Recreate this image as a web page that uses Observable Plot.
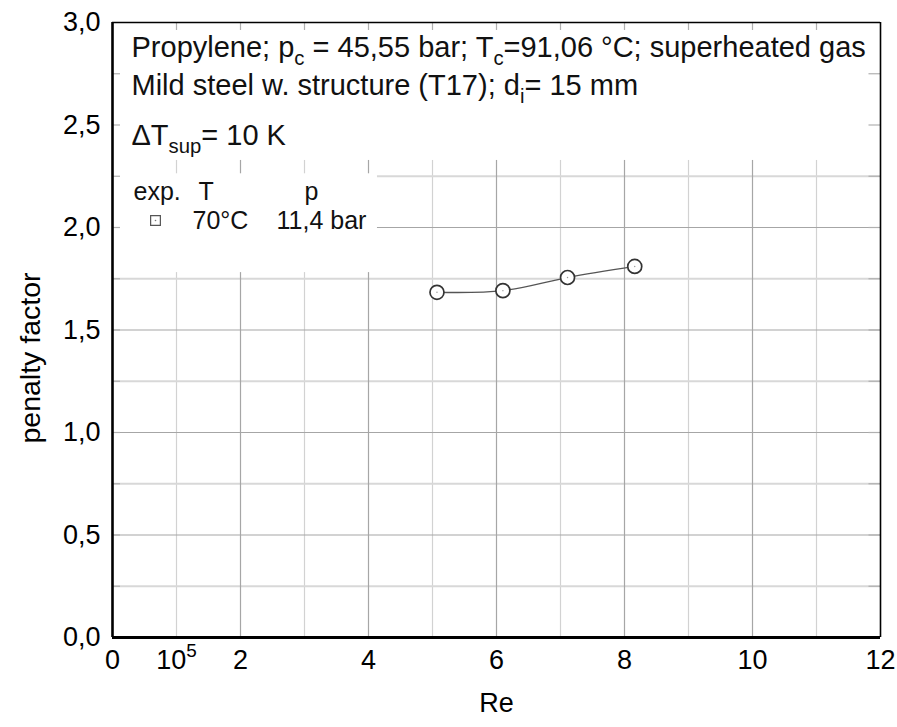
<!DOCTYPE html>
<html>
<head>
<meta charset="utf-8">
<script src="https://cdn.jsdelivr.net/npm/d3@7"></script>
<script src="https://cdn.jsdelivr.net/npm/@observablehq/plot@0.6"></script>
<style>
  html, body { margin: 0; padding: 0; background: white; }
</style>
</head>
<body>
<div id="chart"></div>
<script>
// ---- data ----
const reynolds = [5.07, 6.10, 7.11, 8.16];          // Re (x 10^5)
const penaltyFactor = [1.684, 1.692, 1.756, 1.81];

const xTicks = [0, 1, 2, 4, 6, 8, 10, 12];
const xTickLabels = ["0", "10^{5}", "2", "4", "6", "8", "10", "12"];
const yTicks = [0, 0.5, 1, 1.5, 2, 2.5, 3];
const yTickLabels = ["0,0", "0,5", "1,0", "1,5", "2,0", "2,5", "3,0"];
const xGridMajor = [2, 4, 6, 8, 10];
const xGridMinor = [1, 3, 5, 7, 9, 11];
const yGridMajor = [0.5, 1, 1.5, 2, 2.5];
const yGridMinor = [0.25, 0.75, 1.25, 1.75, 2.25, 2.75];
const xAll = [1, 2, 3, 4, 5, 6, 7, 8, 9, 10, 11];
const yAll = [0.25, 0.5, 0.75, 1, 1.25, 1.5, 1.75, 2, 2.25, 2.5, 2.75];

const infoLines = [
  "Propylene; p_{c} = 45,55 bar; T_{c}=91,06 °C; superheated gas",
  "Mild steel w. structure (T17); d_{i}= 15 mm",
  "ΔT_{sup}= 10 K"
];
const legendHeader = ["exp.", "T", "p"];
const legendRow = ["70°C", "11,4 bar"];
const xLabel = "Re";
const yLabel = "penalty factor";

const points = reynolds.map((r, i) => ({re: r, pf: penaltyFactor[i]}));

const FONT = "Liberation Sans, Arial, Helvetica, sans-serif";
const annoSize = 29;
const legSize = 25;
const tickSize = 27;

const infoDy = [25, 63, 113];

const legText = (t, dx, dy) => Plot.text([t], {
  frameAnchor: "top-left", dx, dy, text: d => d,
  textAnchor: "start", lineAnchor: "middle", fontSize: legSize, fill: "#111"
});

const chart = Plot.plot({
  width: 897,
  height: 727,
  marginLeft: 112,
  marginRight: 17,
  marginTop: 22,
  marginBottom: 90,
  x: {domain: [0, 12]},
  y: {domain: [0, 3]},
  style: {fontFamily: FONT, color: "black", background: "white", overflow: "visible"},
  marks: [
    // grid
    Plot.ruleX(xGridMinor, {stroke: "#d2d2d2", strokeWidth: 1.2}),
    Plot.ruleY(yGridMinor, {stroke: "#d8d8d8", strokeWidth: 1.8}),
    Plot.ruleX(xGridMajor, {stroke: "#a6a6a6", strokeWidth: 1.2}),
    Plot.ruleY(yGridMajor, {stroke: "#a6a6a6", strokeWidth: 1.2}),
    // white boxes behind annotation / legend
    Plot.rect([0], {x1: 0, x2: 12, y1: 2.327, y2: 3, fill: "white"}),
    Plot.rect([0], {x1: 0, x2: 4.14, y1: 1.78, y2: 2.262, fill: "white"}),
    // inward ticks
    Plot.ruleX(xAll, {y1: 3, y2: 2.961, stroke: "#b0b0b0", strokeWidth: 1.2}),
    Plot.ruleY(yAll, {x1: 0, x2: 0.125, stroke: "#b0b0b0", strokeWidth: 1.2}),
    Plot.ruleY(yAll, {x1: 12, x2: 11.82, stroke: "#b0b0b0", strokeWidth: 1.2}),
    // frame
    Plot.ruleY([3], {stroke: "black", strokeWidth: 1.6}),
    Plot.ruleX([12], {stroke: "black", strokeWidth: 1.6}),
    Plot.ruleX([0], {stroke: "black", strokeWidth: 2.6}),
    Plot.ruleY([0], {stroke: "black", strokeWidth: 2.8}),
    // data
    Plot.line(points, {x: "re", y: "pf", curve: "catmull-rom", stroke: "#555", strokeWidth: 1.3}),
    Plot.dot(points, {x: "re", y: "pf", r: 7, stroke: "#333", strokeWidth: 1.7, fill: "white"}),
    Plot.dot(points, {x: "re", y: "pf", r: 0.7, fill: "#999", stroke: null}),
    // annotation text
    ...infoLines.map((t, i) => Plot.text([t], {
      frameAnchor: "top-left", dx: 19, dy: infoDy[i], text: d => d,
      textAnchor: "start", lineAnchor: "middle", fontSize: annoSize, fill: "#111"
    })),
    // legend
    legText(legendHeader[0], 21, 169),
    legText(legendHeader[1], 86, 169),
    legText(legendHeader[2], 192, 169),
    Plot.dot([0], {frameAnchor: "top-left", dx: 43, dy: 198, symbol: "square", r: 5.5, stroke: "#555", strokeWidth: 1.2, fill: "white"}),
    Plot.dot([0], {frameAnchor: "top-left", dx: 43, dy: 198, r: 0.8, fill: "#777", stroke: null}),
    legText(legendRow[0], 80, 198),
    legText(legendRow[1], 164, 198),
    // axes
    Plot.axisX(xTicks, {
      tickSize: 0, tickPadding: 12, fontSize: tickSize, label: null,
      tickFormat: d => xTickLabels[xTicks.indexOf(d)]
    }),
    Plot.axisY(yTicks, {
      tickSize: 0, tickPadding: 12, fontSize: tickSize, label: null,
      tickFormat: d => yTickLabels[yTicks.indexOf(d)]
    }),
    // axis titles
    Plot.text([xLabel], {frameAnchor: "bottom", dy: 66, text: d => d, textAnchor: "middle", lineAnchor: "middle", fontSize: 27}),
    Plot.text([yLabel], {frameAnchor: "left", dx: -82, dy: 28, rotate: -90, text: d => d, textAnchor: "middle", lineAnchor: "middle", fontSize: 28.5})
  ]
});

// rich text: _{sub} and ^{sup}
const NS = "http://www.w3.org/2000/svg";
function richify(el) {
  const s = el.textContent;
  if (!/[_^]\{/.test(s)) return;
  const fs = parseFloat(getComputedStyle(el).fontSize) || 26;
  el.textContent = "";
  const rx = /([_^])\{([^}]*)\}/g;
  let last = 0, m, pending = 0;
  const add = (txt, dy, small) => {
    const t = document.createElementNS(NS, "tspan");
    t.textContent = txt;
    if (dy) t.setAttribute("dy", dy);
    if (small) t.setAttribute("font-size", (fs * 0.7).toFixed(1));
    el.appendChild(t);
  };
  while ((m = rx.exec(s))) {
    if (m.index > last) { add(s.slice(last, m.index), pending, false); pending = 0; }
    const off = m[1] === "_" ? fs * 0.3 : -fs * 0.42;
    add(m[2], pending + off, true);
    pending = -off;
    last = m.index + m[0].length;
  }
  if (last < s.length) add(s.slice(last), pending, false);
}
document.getElementById("chart").appendChild(chart);
chart.querySelectorAll("text").forEach(richify);
</script>
</body>
</html>
